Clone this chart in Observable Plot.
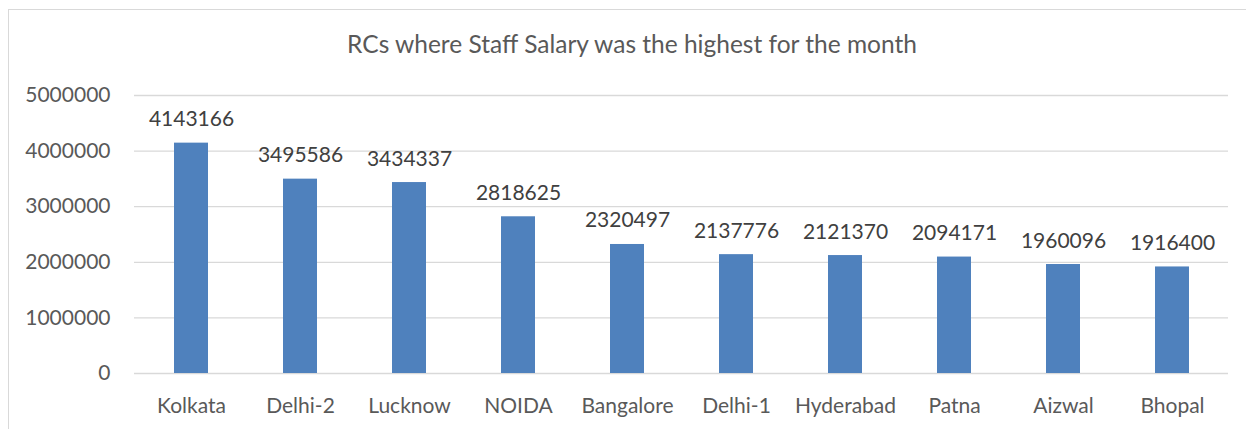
<!DOCTYPE html>
<html>
<head>
<meta charset="utf-8">
<script src="https://cdn.jsdelivr.net/npm/d3@7"></script>
<script src="https://cdn.jsdelivr.net/npm/@observablehq/plot@0.6"></script>
<style>
  html, body { margin: 0; padding: 0; background: #fff; }
  #wrap { position: relative; width: 1246px; height: 429px; overflow: hidden; font-family: Lato, "Open Sans", sans-serif; }
  #frame { position: absolute; left: 8px; top: 9px; width: 1300px; height: 500px; border-top: 1px solid #d9d9d9; border-left: 1px solid #d9d9d9; box-sizing: border-box; }
  #title { position: absolute; left: 0; width: 1264px; top: 32px; text-align: center; font-size: 24.5px; color: #595959; line-height: 1; }
  #chart { position: absolute; left: 0; top: 0; }
</style>
</head>
<body>
<div id="wrap">
  <div id="frame"></div>
  <div id="chart"></div>
  <div id="title">RCs where Staff Salary was the highest for the month</div>
</div>
<script>
const categories = ["Kolkata", "Delhi-2", "Lucknow", "NOIDA", "Bangalore", "Delhi-1", "Hyderabad", "Patna", "Aizwal", "Bhopal"];
const salaries = [4143166, 3495586, 3434337, 2818625, 2320497, 2137776, 2121370, 2094171, 1960096, 1916400];
const yTicks = [0, 1000000, 2000000, 3000000, 4000000, 5000000];

const data = categories.map((c, i) => ({ rc: c, value: salaries[i] }));

const chart = Plot.plot({
  width: 1246,
  height: 429,
  marginLeft: 134,
  marginRight: 18,
  marginTop: 95,
  marginBottom: 56,
  style: { fontFamily: "Lato, 'Open Sans', sans-serif", fontSize: "21px", color: "#595959", background: "transparent", overflow: "visible" },
  x: { domain: categories, paddingInner: 0.69, paddingOuter: 0.345, label: null },
  y: { domain: [0, 5000000], label: null },
  marks: [
    Plot.ruleY(yTicks, { stroke: "#d9d9d9", strokeWidth: 1.3 }),
    Plot.barY(data, { x: "rc", y: "value", fill: "#4f81bd" }),
    Plot.text(data, { x: "rc", y: "value", text: d => String(d.value), lineAnchor: "bottom", dy: -17, fill: "#404040", fontSize: 21 }),
    Plot.axisY({ ticks: yTicks, tickSize: 0, tickPadding: 24, tickFormat: d => String(d), fontSize: 21, fill: "#595959" }),
    Plot.axisX({ tickSize: 0, tickPadding: 25, fontSize: 21, fill: "#595959" })
  ]
});
document.getElementById("chart").appendChild(chart);
</script>
</body>
</html>
